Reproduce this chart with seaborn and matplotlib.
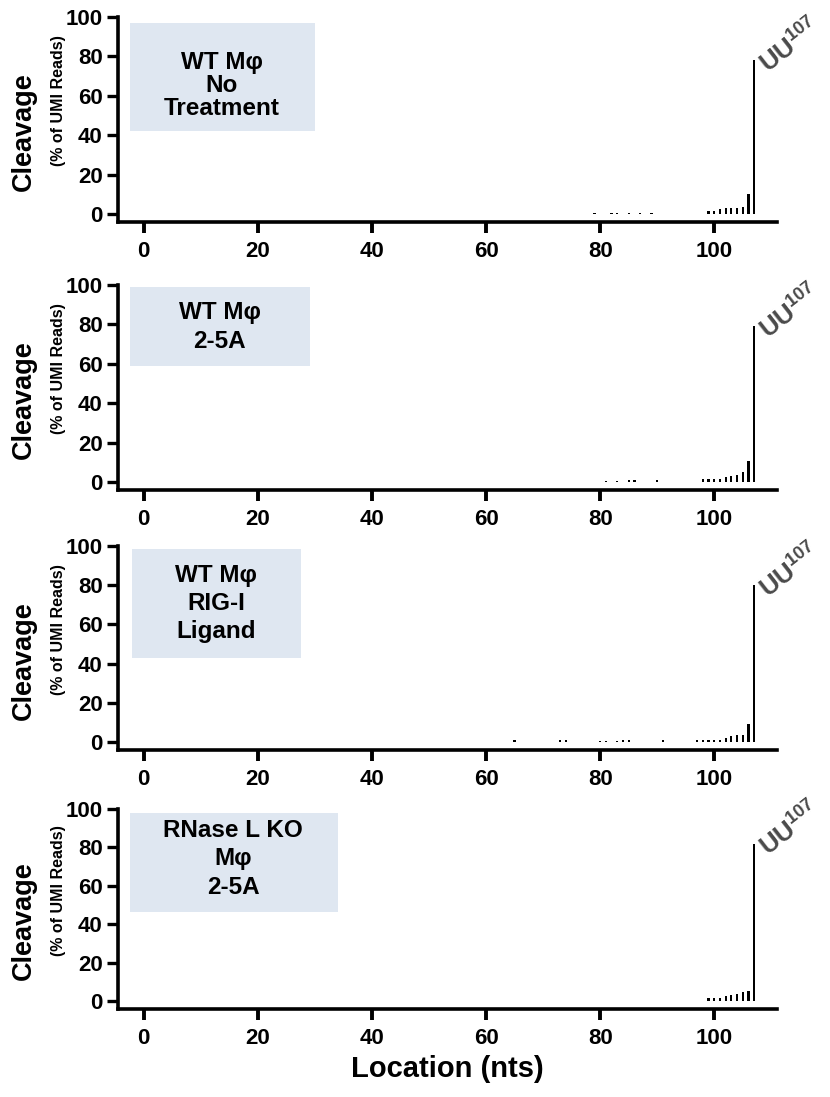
import numpy as np
import pandas as pd
import matplotlib
matplotlib.use("Agg")
import matplotlib.pyplot as plt
from matplotlib.patches import Rectangle
import seaborn as sns

# Cleavage sites (nt position) and share of UMI reads (%) per condition
pos_untreated = [79, 82, 83, 85, 87, 89, 99, 100, 101, 102, 103, 104, 105, 106, 107]
val_untreated = [0.8, 0.6, 0.6, 0.8, 0.8, 0.8, 1.7, 1.7, 2.7, 3.2, 3.2, 3.2, 3.7, 10.3, 78]

pos_25a = [81, 83, 85, 86, 90, 98, 99, 100, 101, 102, 103, 104, 105, 106, 107]
val_25a = [0.5, 0.5, 0.9, 0.9, 0.9, 1.4, 1.4, 1.4, 1.5, 2.8, 2.9, 3.6, 5.0, 10.5, 79]

pos_rigi = [65, 73, 74, 80, 81, 83, 84, 85, 91, 97, 98, 99, 100, 101, 102, 103, 104, 105, 106, 107]
val_rigi = [0.9, 0.9, 0.9, 0.7, 0.6, 0.7, 0.9, 0.9, 0.9, 0.9, 1.0, 1.0, 1.3, 1.3, 2.3, 3.3, 3.5, 3.8, 9.0, 80]

pos_ko = [67, 99, 100, 101, 102, 103, 104, 105, 106, 107]
val_ko = [0.4, 1.5, 1.5, 1.6, 2.6, 3.2, 3.8, 4.8, 5.6, 82]

conditions = ["WT Mφ\nNo\nTreatment", "WT Mφ\n2-5A", "WT Mφ\nRIG-I\nLigand", "RNase L KO\nMφ\n2-5A"]
peak_site = 107
peak_label = r"$\mathbf{UU^{107}}$"
x_ticks = [0, 20, 40, 60, 80, 100]
y_ticks = [0, 20, 40, 60, 80, 100]

frames = []
for cond, p, v in zip(conditions,
                      [pos_untreated, pos_25a, pos_rigi, pos_ko],
                      [val_untreated, val_25a, val_rigi, val_ko]):
    frames.append(pd.DataFrame({"condition": cond, "location": p, "cleavage": v}))
df = pd.concat(frames, ignore_index=True)

sns.set_style("ticks")
plt.rcParams["font.family"] = ["Liberation Sans", "DejaVu Sans"]
plt.rcParams["font.weight"] = "bold"
plt.rcParams["mathtext.fontset"] = "custom"
plt.rcParams["mathtext.rm"] = "Liberation Sans"
plt.rcParams["mathtext.bf"] = "Liberation Sans:bold"
for key in ["text.color", "axes.labelcolor", "xtick.color", "ytick.color", "axes.edgecolor"]:
    plt.rcParams[key] = "black"

W, H = 830, 1097
fig = plt.figure(figsize=(W / 100, H / 100), dpi=100)

# panel frames in pixels: (top of y range, bottom spine)
panel_px = [(17, 222), (285, 490), (546, 750), (809, 1009)]
left_px, right_px = 118, 777

# label boxes (data coords: x0, x1, y0, y1), text centre, line spacing
boxes = [(-2.45, 30.1, 42, 97), (-2.45, 29.2, 59, 99), (-2.05, 27.5, 43, 98.5), (-2.45, 34, 46.5, 98)]
text_xy = [(13.7, 65.2), (13.3, 78.7), (12.7, 70.9), (15.7, 74)]
line_sp = [1.02, 1.28, 1.28, 1.28]

ylo = -4
for i, cond in enumerate(conditions):
    top, bot = panel_px[i]
    ax = fig.add_axes([left_px / W, 1 - bot / H, (right_px - left_px) / W, (bot - top) / H])
    sub = df[df["condition"] == cond]
    sns.barplot(data=sub, x="location", y="cleavage", native_scale=True, width=0.4,
                color="black", linewidth=0, saturation=1, errorbar=None, ax=ax)
    ax.set_xlim(-4.5, 111)
    ax.set_ylim(ylo, 100)
    ax.set_xticks(x_ticks)
    ax.set_yticks(y_ticks)
    ax.set_xlabel("")
    ax.set_ylabel("")
    sns.despine(ax=ax)
    for s in ["left", "bottom"]:
        ax.spines[s].set_linewidth(2.6)
        ax.spines[s].set_color("black")
    ax.tick_params(axis="x", length=8, width=2.8, pad=6, labelsize=16, colors="black")
    ax.tick_params(axis="y", length=8, width=2.4, pad=3, labelsize=16, colors="black")
    for lab in ax.get_xticklabels() + ax.get_yticklabels():
        lab.set_fontweight("bold")

    x0, x1, y0, y1 = boxes[i]
    ax.add_patch(Rectangle((x0, y0), x1 - x0, y1 - y0, facecolor="#dfe7f1",
                           edgecolor="none", zorder=0))
    tx, ty = text_xy[i]
    ax.text(tx, ty, cond, ha="center", va="center", fontsize=17.5, fontweight="bold",
            linespacing=line_sp[i], color="black")

    peak = sub.loc[sub["location"] == peak_site, "cleavage"].iloc[0]
    ax.annotate(peak_label, xy=(peak_site, peak), xytext=(10, -10), textcoords="offset points",
                rotation=38, rotation_mode="anchor", ha="left", va="baseline",
                fontsize=18.5, color="#4a4a4a", annotation_clip=False)

    ax.text(-0.143, 0.44, "Cleavage", transform=ax.transAxes, rotation=90,
            ha="center", va="center", fontsize=19.5, fontweight="bold", color="black")
    ax.text(-0.090, 0.59, "(% of UMI Reads)", transform=ax.transAxes, rotation=90,
            ha="center", va="center", fontsize=11.5, fontweight="bold", color="black")
    if i == len(conditions) - 1:
        ax.text(0.5, -0.30, "Location (nts)", transform=ax.transAxes,
                ha="center", va="center", fontsize=21, fontweight="bold", color="black")

fig.savefig("out.png", dpi=100)
